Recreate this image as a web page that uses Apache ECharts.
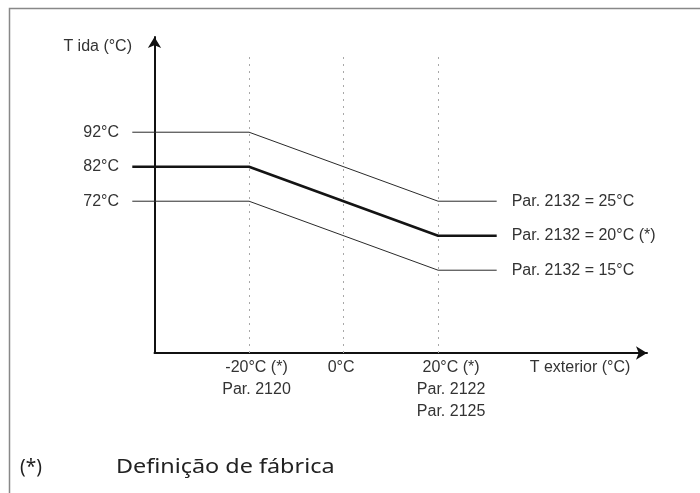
<!DOCTYPE html>
<html>
<head>
<meta charset="utf-8">
<script src="https://cdn.jsdelivr.net/npm/echarts@6/dist/echarts.min.js"></script>
<style>
html,body{margin:0;padding:0;background:#fff;}
#c{width:700px;height:493px;}
</style>
</head>
<body>
<div id="c"></div>
<script>
// ---- data ----
const xTicks = [-20, 0, 20];
const xTickLabels = [['-20°C (*)', 'Par. 2120'], ['0°C'], ['20°C (*)', 'Par. 2122', 'Par. 2125']];
const yTicks = [72, 82, 92];
const yTickLabels = ['72°C', '82°C', '92°C'];
const curveX = [-44.7, -20, 20, 32.4];
const curve25 = [92, 92, 72, 72];
const curve20 = [82, 82, 62, 62];
const curve15 = [72, 72, 52, 52];
const seriesNames = ['Par. 2132 = 25°C', 'Par. 2132 = 20°C (*)', 'Par. 2132 = 15°C'];
const guideX = [-20, 0, 20];
const guideTop = 115;
const xName = 'T exterior (°C)';
const yName = 'T ida (°C)';
const footMark = '(*)';
const footText = 'Definição de fábrica';

// axis ranges
const axisXMin = -40, dataXMin = -45, xMax = 64.2, yMin = 28, yMax = 119.6;

// ---- styles ----
const LBL_FONT = "'Liberation Sans Narrow', 'Liberation Sans', Arial, sans-serif";
const LBL_SIZE = 16;
const txt = '#333';
const PX_PER_X = 4.725;
const AXIS_LEFT = 154.5, RIGHT = 53, TOP = 37, BOTTOM = 140;
const DATA_LEFT = AXIS_LEFT - (axisXMin - dataXMin) * PX_PER_X;

function pairs(xs, ys) { return xs.map((x, i) => [x, ys[i]]); }

const chart = echarts.init(document.getElementById('c'), null, {renderer: 'canvas'});

const labelShift = [15, -5, 26];
const rich = {};
labelShift.forEach((s, i) => {
  rich['s' + i] = {
    fontFamily: LBL_FONT, fontSize: LBL_SIZE, color: txt, lineHeight: 22,
    padding: s >= 0 ? [0, 0, 0, s] : [0, -s, 0, 0]
  };
});

function lineSeries(name, ys, width, color) {
  return {
    type: 'line', name: name, data: pairs(curveX, ys),
    xAxisIndex: 0, yAxisIndex: 0,
    clip: false, symbol: 'none', silent: true, animation: false,
    lineStyle: {color: color, width: width},
    endLabel: {show: true, formatter: '{a}', distance: 15, color: txt, fontFamily: LBL_FONT, fontSize: LBL_SIZE}
  };
}

const s25 = lineSeries(seriesNames[0], curve25, 1, '#2a2a2a');
const s20 = lineSeries(seriesNames[1], curve20, 2.6, '#141414');
const s15 = lineSeries(seriesNames[2], curve15, 1, '#2a2a2a');
s15.markLine = {
  silent: true, symbol: 'none', animation: false, label: {show: false},
  lineStyle: {color: '#a8a8a8', width: 1, type: [2, 5]},
  data: guideX.map(x => [{coord: [x, yMin]}, {coord: [x, guideTop]}])
};

const hiddenAxis = {show: false};

chart.setOption({
  animation: false,
  backgroundColor: '#fff',
  grid: [
    {left: DATA_LEFT, right: RIGHT, top: TOP, bottom: BOTTOM, outerBoundsMode: 'none', containLabel: false},
    {left: AXIS_LEFT, right: RIGHT, top: TOP, bottom: BOTTOM, outerBoundsMode: 'none', containLabel: false}
  ],
  xAxis: [
    Object.assign({type: 'value', gridIndex: 0, min: dataXMin, max: xMax}, hiddenAxis),
    {
      type: 'value', gridIndex: 1, min: axisXMin, max: xMax,
      axisLine: {show: true, onZero: false, lineStyle: {color: '#111', width: 2}, symbol: ['none', 'arrow'], symbolSize: [10, 11]},
      axisTick: {show: false}, splitLine: {show: false},
      axisLabel: {
        customValues: xTicks, margin: 4,
        formatter: function (v) {
          const i = xTicks.indexOf(v);
          if (i < 0) return '';
          return xTickLabels[i].map(l => '{s' + i + '|' + l + '}').join('\n');
        },
        rich: rich
      }
    }
  ],
  yAxis: [
    Object.assign({type: 'value', gridIndex: 0, min: yMin, max: yMax}, hiddenAxis),
    {
      type: 'value', gridIndex: 1, min: yMin, max: yMax,
      axisLine: {show: true, onZero: false, lineStyle: {color: '#111', width: 2}, symbol: ['none', 'arrow'], symbolSize: [10, 11]},
      axisTick: {show: false}, splitLine: {show: false},
      axisLabel: {
        customValues: yTicks, margin: 35.5,
        color: txt, fontFamily: LBL_FONT, fontSize: LBL_SIZE,
        formatter: function (v) { const i = yTicks.indexOf(v); return i < 0 ? '' : yTickLabels[i]; }
      }
    }
  ],
  graphic: [
    {type: 'rect', silent: true, shape: {x: 9.5, y: 8.5, width: 900, height: 700}, style: {fill: 'none', stroke: '#888', lineWidth: 1.5}},
    {type: 'text', silent: true, x: 132, y: 46.5, style: {text: yName, align: 'right', verticalAlign: 'middle', fill: txt, font: LBL_SIZE + 'px ' + LBL_FONT}},
    {type: 'text', silent: true, x: 580, y: 368, style: {text: xName, align: 'center', verticalAlign: 'middle', fill: txt, font: LBL_SIZE + 'px ' + LBL_FONT}},
    {type: 'text', silent: true, x: 20, y: 458, style: {text: footMark, align: 'left', verticalAlign: 'alphabetic', fill: '#222', font: '19px "Noto Sans", sans-serif'}},
    {type: 'text', silent: true, x: 116, y: 458, scaleX: 1.23, style: {text: footText, align: 'left', verticalAlign: 'alphabetic', fill: '#222', font: '19px "Noto Sans", sans-serif'}}
  ],
  series: [s25, s20, s15]
});
</script>
</body>
</html>
